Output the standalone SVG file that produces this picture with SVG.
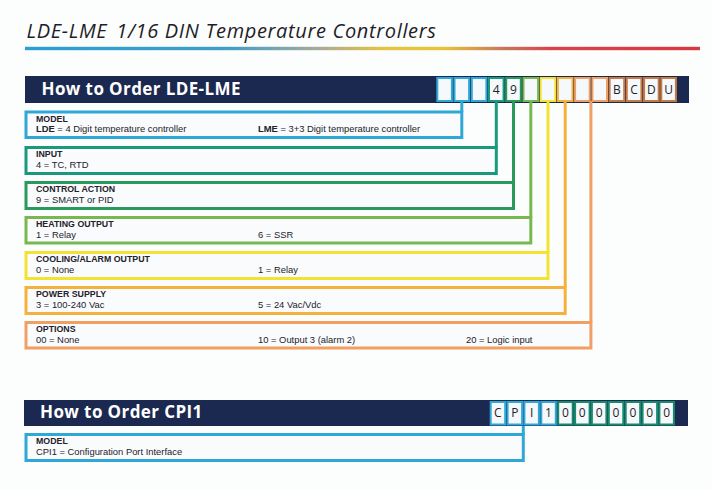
<svg xmlns="http://www.w3.org/2000/svg" width="712" height="490" viewBox="0 0 712 490">
<defs>
<linearGradient id="rule" x1="25" y1="0" x2="700" y2="0" gradientUnits="userSpaceOnUse">
<stop offset="0" stop-color="#2a9fd4"/>
<stop offset="0.3" stop-color="#3f9ec6"/>
<stop offset="0.43" stop-color="#a4aa9c"/>
<stop offset="0.53" stop-color="#e2c440"/>
<stop offset="0.62" stop-color="#e6c43a"/>
<stop offset="0.71" stop-color="#c8765a"/>
<stop offset="0.78" stop-color="#d8444a"/>
<stop offset="1" stop-color="#d83840"/>
</linearGradient>
<style>
.title{font-family:"Open Sans","Noto Sans",sans-serif;font-style:italic;font-size:20px;letter-spacing:0.65px;fill:#1e1e28}
.bar{fill:#1b2850}
.htxt{font-family:"Open Sans","Noto Sans",sans-serif;font-weight:bold;font-size:17px;letter-spacing:0.4px;fill:#ffffff}
.cell{fill:#f6f9fb;stroke-width:2}
.ctxt{font-family:"Open Sans","Noto Sans",sans-serif;font-size:12px;fill:#1e1e2a;text-anchor:middle}
.box{fill:#fafbfc;stroke-width:3}
.cap{font-family:"Liberation Sans",Arial,sans-serif;font-weight:bold;font-size:8.8px;fill:#22222c}
.val{font-family:"Liberation Sans",Arial,sans-serif;font-size:9.4px;fill:#22222c}
.b{font-weight:bold}
.conn{fill:none;stroke-width:3}
.blue{stroke:#2fa8d8}
.teal{stroke:#1a9a7c}
.green{stroke:#2a9a5c}
.lgreen{stroke:#78b850}
.yellow{stroke:#f4e232}
.oy{stroke:#f4b23c}
.orange{stroke:#efa062}
.brown{stroke:#c87a44}
.cteal{stroke:#1a8a6e}
</style>
</defs>
<rect x="0" y="0" width="712" height="490" fill="#fcfdfd"/>

<g id="title">
<text class="title" x="26.5" y="37.5">LDE-LME<tspan dx="9">1/16 DIN Temperature Controllers</tspan></text>
<rect x="25" y="46.8" width="675" height="3.4" fill="url(#rule)"/>
</g>

<g id="header-lde">
<rect class="bar" x="25" y="76" width="664" height="27"/>
<text class="htxt" x="41.5" y="94.5">How to Order LDE-LME</text>
<rect class="cell blue" x="437.3" y="78" width="14.6" height="23"/>
<rect class="cell blue" x="454.5" y="78" width="14.6" height="23"/>
<rect class="cell blue" x="471.8" y="78" width="14.6" height="23"/>
<rect class="cell teal" x="489.0" y="78" width="14.6" height="23"/>
<rect class="cell green" x="506.2" y="78" width="14.6" height="23"/>
<rect class="cell lgreen" x="523.5" y="78" width="14.6" height="23"/>
<rect class="cell yellow" x="540.7" y="78" width="14.6" height="23"/>
<rect class="cell oy" x="557.9" y="78" width="14.6" height="23"/>
<rect class="cell orange" x="575.1" y="78" width="14.6" height="23"/>
<rect class="cell orange" x="592.4" y="78" width="14.6" height="23"/>
<rect class="cell brown" x="609.6" y="78" width="14.6" height="23"/>
<rect class="cell brown" x="626.8" y="78" width="14.6" height="23"/>
<rect class="cell brown" x="644.1" y="78" width="14.6" height="23"/>
<rect class="cell brown" x="661.3" y="78" width="14.6" height="23"/>
<text class="ctxt" x="496.3" y="93.5">4</text>
<text class="ctxt" x="513.5" y="93.5">9</text>
<text class="ctxt" x="616.9" y="93.5">B</text>
<text class="ctxt" x="634.1" y="93.5">C</text>
<text class="ctxt" x="651.4" y="93.5">D</text>
<text class="ctxt" x="668.6" y="93.5">U</text>
</g>

<g id="connectors">
<line class="conn blue" x1="461.8" y1="101" x2="461.8" y2="112"/>
<line class="conn teal" x1="496.3" y1="101" x2="496.3" y2="147.5"/>
<line class="conn green" x1="513.5" y1="101" x2="513.5" y2="182.5"/>
<line class="conn lgreen" x1="530.8" y1="101" x2="530.8" y2="217.5"/>
<line class="conn yellow" x1="548" y1="101" x2="548" y2="252.5"/>
<line class="conn oy" x1="565.2" y1="101" x2="565.2" y2="287.5"/>
<line class="conn orange" x1="590.9" y1="101" x2="590.9" y2="322.5"/>
<line class="conn blue" x1="523.3" y1="424.5" x2="523.3" y2="434.5"/>
</g>

<g id="model">
<rect class="box blue" x="26" y="112" width="435.8" height="25.5"/>
<text class="cap" x="36" y="121.7">MODEL</text>
<text class="val" x="36" y="132.4"><tspan class="b">LDE</tspan> = 4 Digit temperature controller</text>
<text class="val" x="258" y="132.4"><tspan class="b">LME</tspan> = 3+3 Digit temperature controller</text>
</g>

<g id="input">
<rect class="box teal" x="26" y="147.5" width="470.3" height="26"/>
<text class="cap" x="36" y="157.2">INPUT</text>
<text class="val" x="36" y="167.9">4 = TC, RTD</text>
</g>

<g id="control-action">
<rect class="box green" x="26" y="182.5" width="487.5" height="26"/>
<text class="cap" x="36" y="192.2">CONTROL ACTION</text>
<text class="val" x="36" y="202.9">9 = SMART or PID</text>
</g>

<g id="heating-output">
<rect class="box lgreen" x="26" y="217.5" width="504.8" height="25.5"/>
<text class="cap" x="36" y="227.2">HEATING OUTPUT</text>
<text class="val" x="36" y="237.9">1 = Relay</text>
<text class="val" x="258" y="237.9">6 = SSR</text>
</g>

<g id="cooling-output">
<rect class="box yellow" x="26" y="252.5" width="522" height="26"/>
<text class="cap" x="36" y="262.2">COOLING/ALARM OUTPUT</text>
<text class="val" x="36" y="272.9">0 = None</text>
<text class="val" x="258" y="272.9">1 = Relay</text>
</g>

<g id="power-supply">
<rect class="box oy" x="26" y="287.5" width="539.2" height="26"/>
<text class="cap" x="36" y="297.2">POWER SUPPLY</text>
<text class="val" x="36" y="307.9">3 = 100-240 Vac</text>
<text class="val" x="258" y="307.9">5 = 24 Vac/Vdc</text>
</g>

<g id="options">
<rect class="box orange" x="26" y="322.5" width="564.9" height="25.5"/>
<text class="cap" x="36" y="332.2">OPTIONS</text>
<text class="val" x="36" y="342.9">00 = None</text>
<text class="val" x="258" y="342.9">10 = Output 3 (alarm 2)</text>
<text class="val" x="466" y="342.9">20 = Logic input</text>
</g>

<g id="header-cpi1">
<rect class="bar" x="24" y="400" width="664" height="26"/>
<text class="htxt" x="40" y="418">How to Order CPI1</text>
<rect class="cell blue" x="490.7" y="402" width="14.5" height="22.5"/>
<rect class="cell blue" x="507.6" y="402" width="14.5" height="22.5"/>
<rect class="cell blue" x="524.4" y="402" width="14.5" height="22.5"/>
<rect class="cell blue" x="541.3" y="402" width="14.5" height="22.5"/>
<rect class="cell cteal" x="558.2" y="402" width="14.5" height="22.5"/>
<rect class="cell cteal" x="575.1" y="402" width="14.5" height="22.5"/>
<rect class="cell cteal" x="591.9" y="402" width="14.5" height="22.5"/>
<rect class="cell cteal" x="608.8" y="402" width="14.5" height="22.5"/>
<rect class="cell cteal" x="625.7" y="402" width="14.5" height="22.5"/>
<rect class="cell cteal" x="642.6" y="402" width="14.5" height="22.5"/>
<rect class="cell cteal" x="659.4" y="402" width="14.5" height="22.5"/>
<text class="ctxt" x="497.9" y="417">C</text>
<text class="ctxt" x="514.8" y="417">P</text>
<text class="ctxt" x="531.7" y="417">I</text>
<text class="ctxt" x="548.5" y="417">1</text>
<text class="ctxt" x="565.4" y="417">0</text>
<text class="ctxt" x="582.3" y="417">0</text>
<text class="ctxt" x="599.2" y="417">0</text>
<text class="ctxt" x="616.0" y="417">0</text>
<text class="ctxt" x="632.9" y="417">0</text>
<text class="ctxt" x="649.8" y="417">0</text>
<text class="ctxt" x="666.7" y="417">0</text>
</g>

<g id="cpi1-model">
<rect class="box blue" x="26" y="434.5" width="497.3" height="26"/>
<text class="cap" x="36" y="444.2">MODEL</text>
<text class="val" x="36" y="454.9">CPI1 = Configuration Port Interface</text>
</g>
</svg>
